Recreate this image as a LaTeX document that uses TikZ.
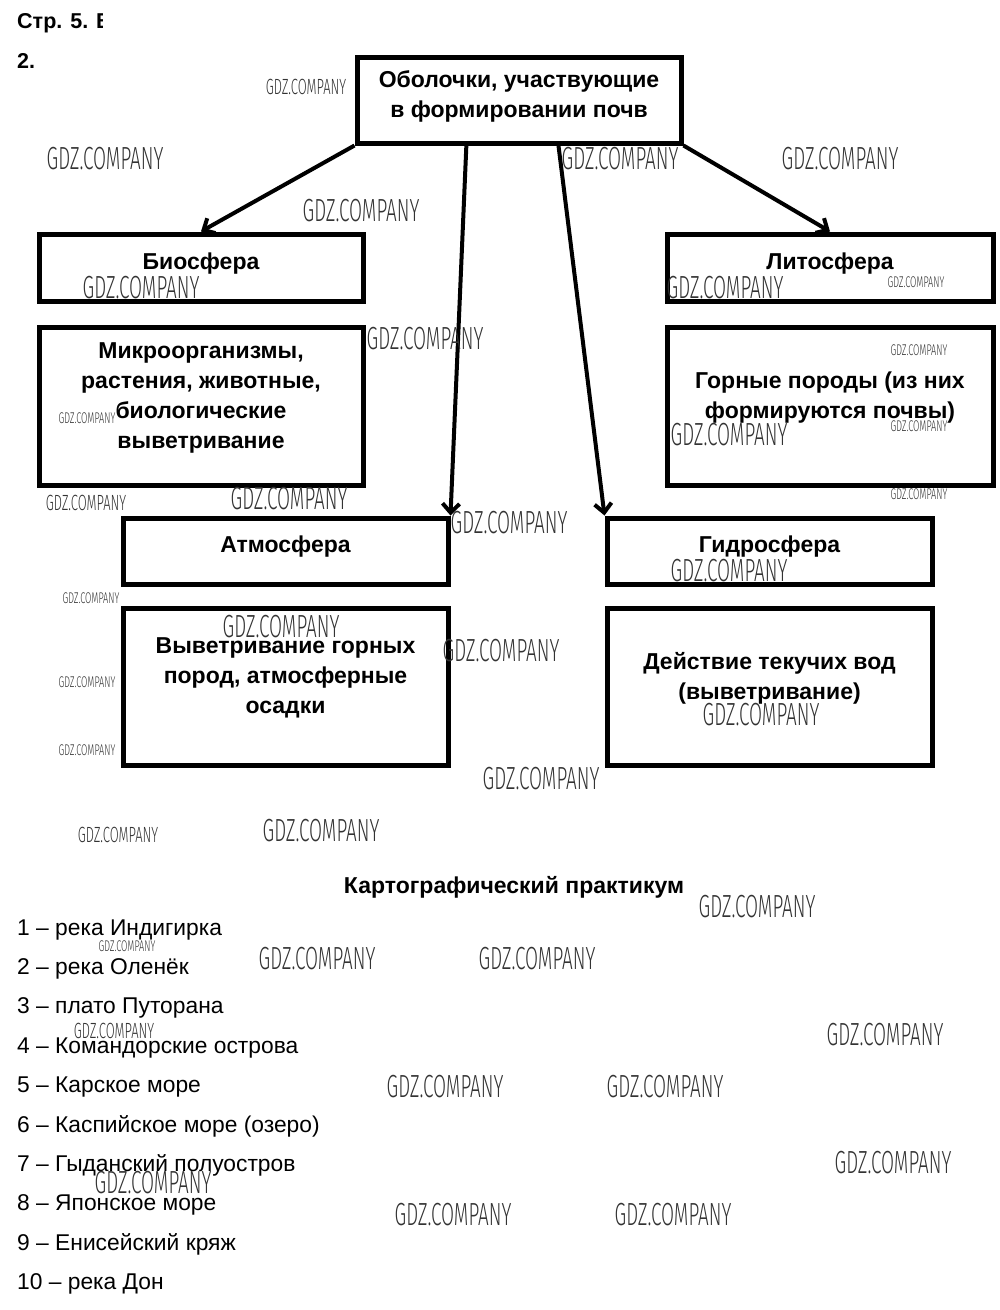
\documentclass[tikz,border=0pt]{standalone}
\usepackage{fontspec}
\setmainfont{Liberation Sans}
\newfontfamily\wmfont[FakeStretch=0.59,UprightFont={* Light}]{Fira Sans}
\usepackage{tikz}
\usetikzlibrary{arrows.meta,positioning,calc}

\begin{document}
\begin{tikzpicture}[
  x=1pt, y=-1pt,
  shell/.style={draw, line width=5pt, align=center, inner sep=0pt, text depth=13pt,
    minimum width=325pt, font=\bfseries\fontsize{23}{30}\selectfont},
  tall/.style={text depth=21pt},
  arr/.style={line width=4pt, -{Straight Barb[length=9pt, width=17pt]}},
  head/.style={anchor=base west, inner sep=0pt, font=\bfseries\fontsize{21.5}{26}\selectfont},
  item/.style={anchor=base west, inner sep=0pt, font=\fontsize{22.8}{27}\selectfont},
  wm/.style={inner sep=0pt, text=black!80, font=\wmfont\fontsize{#1}{#1}\selectfont},
  wm/.default=32
]
\useasboundingbox (0,0) rectangle (1000,1310);

% heading
\begin{scope}
  \clip (0,0) rectangle (102,40);
  \node[head] (page) at (17,28) {Стр. 5. В};
\end{scope}
\node[head] (task) at (17,68) {2.};

% shells
\node[shell, text depth=11pt, minimum width=324pt, minimum height=86pt] (top) at (519,100)
  {Оболочки, участвующие\\в формировании почв};
\node[shell, minimum width=324pt, minimum height=67pt] (bio) at (201,267.5) {Биосфера};
\node[shell, tall, minimum width=324pt, minimum height=158pt] (biotxt) at (201,406)
  {Микроорганизмы,\\растения, животные,\\биологические\\выветривание};
\node[shell, minimum width=326pt, minimum height=67pt] (lito) at (830,267.5) {Литосфера};
\node[shell, tall, minimum width=326pt, minimum height=158pt] (litotxt) at (830,406)
  {Горные породы (из них\\формируются почвы)};
\node[shell, minimum height=66pt] (atm) at (285.5,551) {Атмосфера};
\node[shell, tall, minimum height=157pt] (atmtxt) at (285.5,686.5)
  {Выветривание горных\\пород, атмосферные\\осадки};
\node[shell, minimum height=66pt] (hyd) at (769.5,551) {Гидросфера};
\node[shell, tall, minimum height=157pt] (hydtxt) at (769.5,686.5)
  {Действие текучих вод\\(выветривание)};

% arrows
\draw[arr] (top.south west) -- (bio.north);
\draw[arr] ($(top.south west)!0.34!(top.south east)$) -- (atm.north east);
\draw[arr] ($(top.south west)!0.62!(top.south east)$) -- (hyd.north west);
\draw[arr] (top.south east) -- (lito.north);

% map practice
\node[anchor=base, inner sep=0pt, font=\bfseries\fontsize{23}{26}\selectfont] (prac) at (514,893)
  {Картографический практикум};
\foreach \t [count=\i] in {река Индигирка, река Оленёк, плато Путорана,
  Командорские острова, Карское море, Каспийское море (озеро),
  Гыданский полуостров, Японское море, Енисейский кряж, река Дон}
  \node[item] (it\i) at (17,{935+39.4*(\i-1)}) {\i{} – \t};

% watermarks
\foreach \x/\y [count=\i] in {105/159, 361/211, 620/159, 840/159, 141/288, 725/288,
  425/339, 729/435, 289/499, 509/523, 729/571, 281/627, 501/651, 761/715,
  541/779, 321/831, 757/907, 317/959, 537/959, 885/1035, 445/1087, 665/1087,
  893/1163, 153/1183, 453/1215, 673/1215}
  \node[wm] (wmL\i) at (\x,\y) {GDZ.COMPANY};
\foreach \x/\y [count=\i] in {306/87, 86/503, 118/835, 114/1031}
  \node[wm=22] (wmS\i) at (\x,\y) {GDZ.COMPANY};
\foreach \x/\y [count=\i] in {916/282, 919/350, 919/426, 919/494, 87/418,
  91/598, 87/682, 87/750, 127/946}
  \node[wm=15.5] (wmT\i) at (\x,\y) {GDZ.COMPANY};
\end{tikzpicture}
\end{document}
